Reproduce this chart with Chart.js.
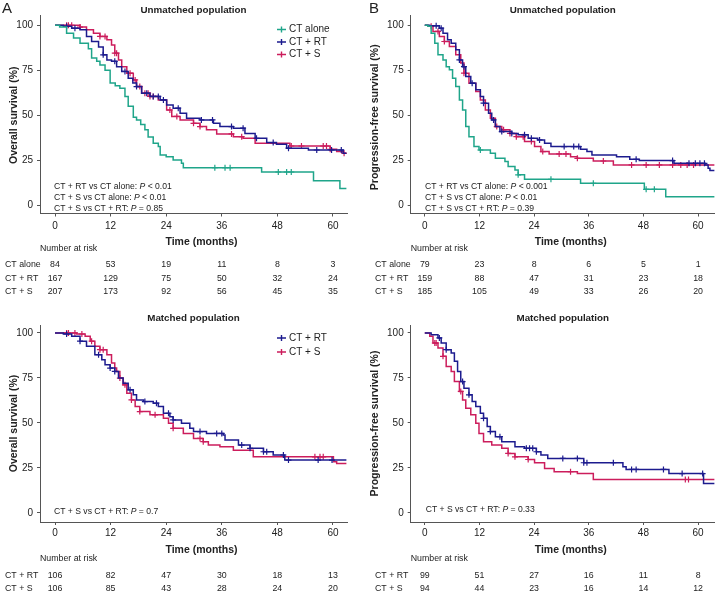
<!DOCTYPE html>
<html>
<head>
<meta charset="utf-8">
<script src="https://cdn.jsdelivr.net/npm/chart.js@4.4.1/dist/chart.umd.min.js"></script>
<style>
  html, body { margin: 0; padding: 0; background: #fff; }
  #wrap { position: relative; width: 720px; height: 594px; overflow: hidden; }
  #wrap canvas { position: absolute; }
</style>
</head>
<body>
<div id="wrap">
  <canvas id="pA" width="360" height="297" style="left:0;top:0;width:360px;height:297px"></canvas>
  <canvas id="pB" width="360" height="297" style="left:360px;top:0;width:360px;height:297px"></canvas>
  <canvas id="pC" width="360" height="297" style="left:0;top:297px;width:360px;height:297px"></canvas>
  <canvas id="pD" width="360" height="297" style="left:360px;top:297px;width:360px;height:297px"></canvas>
</div>
<script>
const timeTicks = [0, 12, 24, 36, 48, 60];
const survTicks = [0, 25, 50, 75, 100];

// A: overall survival, unmatched population
const osUnAloneT = [0, 1, 2.5, 4, 5.4, 7.2, 7.9, 9, 9.7, 10.8, 11.9, 13, 14, 15.1, 15.8, 16.9, 17.6, 18.5, 19.4, 20.1, 21.2, 22.3, 22.7, 24, 25.5, 27.3, 27.7, 44.6, 55.8, 61.5, 62.9];
const osUnAloneS = [100, 99, 95.6, 93, 90, 87, 81.8, 80, 78, 75, 68, 66.5, 65, 60.5, 55, 49, 47.5, 45, 42, 38, 34.5, 32.7, 28, 27, 25.3, 23.4, 21, 18.6, 13.8, 9.5, 9.5];
const osUnAloneCens = [34.5, 36.7, 37.8, 48.2, 50, 51];
const osUnRtT = [0, 1.8, 3.6, 5.4, 6.8, 7.9, 9.4, 10.4, 11.2, 12.2, 13.3, 14.4, 15.8, 16.8, 17.6, 18.7, 20.5, 22.7, 24.1, 25.5, 27, 28.4, 31.3, 34.2, 35.6, 38.5, 41, 43.2, 45.7, 47.8, 50, 54.7, 62.2, 62.9];
const osUnRtS = [100, 99.4, 98.4, 97.5, 93.8, 91, 88, 83.6, 80.8, 80, 77, 74.4, 70.6, 68, 66, 62.3, 60.5, 58.6, 55.8, 54, 51.2, 48.4, 47.5, 45.6, 43.8, 42.9, 40, 37.3, 34.9, 34, 31.8, 30.8, 29, 29];
const osUnRtCens = [2.5, 4.3, 10.4, 12.9, 15.1, 17.6, 19.8, 21.2, 22.3, 23.4, 26.6, 31.6, 34, 38.1, 40.6, 43.5, 47.1, 50.4, 56.5, 59.7, 61.8];
const osUnST = [0, 5.4, 6.8, 8.3, 9.7, 11.2, 12.2, 12.9, 13.7, 14.4, 15.5, 16.9, 17.6, 18.7, 20.5, 22.3, 24.1, 25.2, 27, 29.9, 31.3, 32.7, 34.9, 38.5, 40.6, 43.2, 50.7, 59.4, 60.8, 62.2, 62.9];
const osUnSS = [100, 99, 97.5, 95.6, 93.8, 92, 89, 84.5, 80.8, 77, 73.4, 69.7, 66, 62.3, 60.5, 58.6, 53, 49.4, 47.5, 45.6, 43.8, 42, 39.7, 38.2, 37.3, 34.5, 33, 31.2, 30, 29, 29];
const osUnSCens = [2.5, 2.9, 3.6, 5.4, 9.7, 10.8, 12.9, 13.3, 16.2, 17.3, 18.3, 19.4, 20.1, 20.5, 21.2, 24.8, 26.3, 29.9, 31.3, 38.1, 40.3, 51, 53.2, 57.9, 58.6, 59.4, 62.4];
const riskOsUnAlone = [84, 53, 19, 11, 8, 3];
const riskOsUnRt = [167, 129, 75, 50, 32, 24];
const riskOsUnS = [207, 173, 92, 56, 45, 35];

// B: progression-free survival, unmatched population
const pfsUnAloneT = [0, 0.7, 1.4, 2.2, 2.9, 4, 4.7, 5.4, 6.1, 6.8, 7.6, 8.3, 9, 9.7, 10.8, 11.9, 14.4, 15.5, 17.6, 18.3, 19.8, 20.5, 21.9, 34.2, 48.2, 52.9, 63.6];
const pfsUnAloneS = [100, 99.4, 95.6, 90, 83.6, 80.8, 77, 75.3, 70.6, 66, 58.6, 53, 43.8, 38.2, 32.7, 30.8, 29, 26.2, 24.4, 21.6, 19.7, 17, 14.5, 12.3, 9, 4.9, 4.9];
const pfsUnAloneCens = [12.2, 20.5, 27.7, 37, 48.6, 50.4];
const pfsUnRtT = [0, 1.1, 3.2, 4, 5, 5.8, 6.8, 7.6, 8.3, 9, 10.1, 11.2, 12.2, 12.9, 14, 14.7, 15.5, 16.5, 19.1, 20.5, 22.7, 24.8, 26.3, 27.7, 34.2, 35.6, 36.7, 42.1, 45, 47.1, 54.7, 61.5, 62.2, 62.6, 63.6];
const pfsUnRtS = [100, 99.7, 98.4, 95.6, 92, 90, 86.4, 80.8, 77, 71.6, 67.9, 64.2, 60.5, 56.8, 51.2, 47.5, 43.8, 41, 40, 39.2, 37.3, 36.4, 34.5, 32.7, 31.2, 29.9, 28, 27.1, 25.6, 24.9, 23.4, 22.5, 20.7, 19.4, 19.4];
const pfsUnRtCens = [2.5, 3.6, 7.6, 8.6, 10.4, 12.9, 15.1, 16.9, 19.1, 21.9, 23.4, 25.2, 30.6, 32.7, 33.8, 46.4, 54.4, 58, 59.4, 60.4, 61.4];
const pfsUnST = [0, 0.7, 1.8, 3.2, 4.3, 5.4, 6.8, 7.9, 8.6, 9.7, 11.2, 12.2, 13.3, 14.4, 15.5, 16.9, 18.7, 20.1, 21.9, 24.1, 25.5, 27.3, 32, 33.5, 37, 41.4, 63.6];
const pfsUnSS = [100, 99.4, 96.6, 93.8, 91, 88.2, 83.6, 79, 73.4, 67.9, 63.2, 58.6, 53, 48.4, 43.8, 42, 40, 38.2, 35.5, 32.7, 29.9, 28.6, 27.1, 26.2, 24.7, 22.5, 22.5];
const pfsUnSCens = [1.4, 2.9, 4.3, 8.6, 15.8, 17.3, 18.7, 20.1, 21.6, 23.4, 25.9, 29.5, 31, 33.5, 39.2, 45.4, 48.6, 51.5, 54.4, 56.2, 57.6, 59];
const riskPfsUnAlone = [79, 23, 8, 6, 5, 1];
const riskPfsUnRt = [159, 88, 47, 31, 23, 18];
const riskPfsUnS = [185, 105, 49, 33, 26, 20];

// C: overall survival, matched population
const osMaRtT = [0, 1.8, 3.6, 5.4, 6.8, 8.6, 10.1, 10.8, 11.9, 12.9, 13.7, 14.7, 15.8, 16.9, 17.6, 19.1, 21.2, 22.3, 23.4, 24.8, 25.5, 27.3, 29.1, 29.9, 32.7, 36.3, 36.7, 39.6, 42.1, 45, 47.1, 49.6, 62.9];
const osMaRtS = [100, 99.4, 98.1, 95.4, 92.6, 87.9, 85.1, 82.3, 80.5, 78.6, 74.9, 72.1, 68.4, 65.6, 62.8, 61.9, 61, 59.1, 55.4, 53.5, 51.7, 49.8, 47, 45.2, 44.2, 43.3, 40.5, 37.7, 35.9, 34, 32.2, 29.4, 29.4];
const osMaRtCens = [2.5, 5.4, 9.4, 11.9, 12.9, 16.2, 19.4, 21.9, 24.5, 25.5, 31.3, 34.9, 36, 40.3, 42.1, 45, 45.7, 49.3, 50.4, 56.8, 59.8];
const osMaST = [0, 4.7, 6.5, 7.6, 8.6, 9.7, 11.2, 12.2, 12.9, 13.3, 14, 14.7, 15.5, 16.5, 17.3, 18.3, 20.5, 23.4, 24.5, 25.5, 27.7, 29.9, 32, 33.1, 35.6, 38.5, 42.8, 60.1, 60.8, 62.9];
const osMaSS = [100, 99.4, 98.1, 95.4, 92.6, 90.7, 87.9, 83.3, 80.5, 78.6, 74.9, 71.2, 66.5, 62.8, 59.1, 56.3, 54.5, 52.6, 49.8, 47, 44.2, 41.4, 39.6, 37.7, 36.8, 34.9, 31.2, 28.4, 27.5, 27.5];
const osMaSCens = [2.5, 2.9, 4.3, 5.8, 7.9, 9.7, 10.4, 14, 15.1, 16.5, 18.3, 21.6, 25.5, 31.3, 32, 56.1, 57.2, 57.9];
const riskOsMaRt = [106, 82, 47, 30, 18, 13];
const riskOsMaS = [106, 85, 43, 28, 24, 20];

// D: progression-free survival, matched population
const pfsMaRtT = [0, 1.4, 2.9, 3.6, 4.7, 5.8, 6.5, 7.2, 7.9, 8.6, 9.7, 10.4, 11.2, 12.2, 12.9, 13.7, 14.4, 15.5, 16.9, 19.8, 21.9, 24.5, 25.5, 27, 34.9, 43.5, 44.2, 53.6, 61.2, 63.6];
const pfsMaRtS = [100, 99, 97.2, 94.4, 90.7, 88.8, 84.2, 78.6, 73, 69.3, 65.6, 61.9, 59.1, 55.4, 52.6, 48, 45.2, 42.4, 39.6, 36.8, 35.9, 34, 32.2, 30.3, 27.9, 25.7, 24.2, 21.9, 16.4, 16.4];
const pfsMaRtCens = [3.2, 4.7, 8.3, 9.7, 12.9, 14.4, 16.5, 22.3, 23, 23.7, 24.5, 30.3, 33.5, 34.9, 35.6, 41.4, 45.4, 46.4, 52.4, 56.5, 61];
const pfsMaST = [0, 1.1, 1.8, 2.9, 4, 4.7, 5.8, 6.5, 7.6, 8.3, 9, 10.1, 11.2, 11.9, 12.9, 14.7, 16.9, 18.3, 19.8, 22.7, 24.1, 26.3, 28.4, 33.5, 37, 63.6];
const pfsMaSS = [100, 98.1, 94.4, 91.6, 87, 81.4, 78.6, 73, 67.5, 62.8, 58.2, 54.5, 49.8, 44.2, 39.6, 37.7, 35.9, 33.1, 31.2, 29.7, 27.9, 24.7, 22.9, 21.9, 18.6, 18.6];
const pfsMaSCens = [2.2, 2.5, 4, 7.9, 18.3, 19.8, 22.7, 32, 57.2, 57.9];
const riskPfsMaRt = [99, 51, 27, 16, 11, 8];
const riskPfsMaS = [94, 44, 23, 16, 14, 12];

const FONT = '"Liberation Sans", Arial, Helvetica, sans-serif';
const TXT = '#222';
const AXIS = '#555';
const cAlone = '#1fa58a';
const cRt = '#1c1b8e';
const cS = '#cc1d5c';

function stepAt(T, S, t) {
  let v = S[0];
  for (let i = 0; i < T.length; i++) if (T[i] <= t) v = S[i];
  return v;
}

function group(name, color, T, S, C, risk) {
  return { name, color, T, S, C, risk };
}

// draws all the text around the plot: titles, p-values, legend, risk table
const panelText = {
  id: 'panelText',
  afterDraw(chart, args, o) {
    const ctx = chart.ctx, a = chart.chartArea, xs = chart.scales.x;
    ctx.save();
    ctx.fillStyle = TXT;
    ctx.textBaseline = 'middle';

    if (o.letter) {
      ctx.font = '15px ' + FONT;
      ctx.textAlign = 'left';
      ctx.fillText(o.letter, o.letterX, 9);
    }
    ctx.font = 'bold 9.8px ' + FONT;
    ctx.textAlign = 'center';
    ctx.fillText(o.title, (a.left + a.right) / 2, o.titleY);

    ctx.font = 'bold 10.5px ' + FONT;
    ctx.fillText('Time (months)', (a.left + a.right) / 2 + 8, o.xTitleY);

    ctx.save();
    ctx.translate(o.yTitleX, (a.top + a.bottom) / 2 + o.yTitleDy);
    ctx.rotate(-Math.PI / 2);
    ctx.fillText(o.yTitle, 0, 0);
    ctx.restore();

    // p-values
    ctx.textAlign = 'left';
    o.pTexts.forEach((p, i) => {
      let x = o.pX;
      const y = o.pY[i];
      ctx.font = '8.6px ' + FONT;
      ctx.fillText(p[0], x, y); x += ctx.measureText(p[0]).width;
      ctx.font = 'italic 8.6px ' + FONT;
      ctx.fillText(p[1], x, y); x += ctx.measureText(p[1]).width;
      ctx.font = '8.6px ' + FONT;
      ctx.fillText(p[2], x, y);
    });

    // legend
    ctx.font = '10px ' + FONT;
    o.groups.forEach((g, i) => {
      const y = o.legendY[i], x = o.legendX;
      ctx.strokeStyle = g.color;
      ctx.lineWidth = 1.4;
      ctx.beginPath();
      ctx.moveTo(x, y); ctx.lineTo(x + 9, y);
      ctx.moveTo(x + 4.5, y - 3); ctx.lineTo(x + 4.5, y + 3);
      ctx.stroke();
      ctx.fillStyle = TXT;
      ctx.fillText(g.name, x + 12, y);
    });

    // number at risk
    ctx.font = '8.8px ' + FONT;
    ctx.fillText('Number at risk', a.left, o.narY);
    o.groups.forEach((g, i) => {
      const y = o.rowY[i];
      ctx.textAlign = 'left';
      ctx.fillText(g.name, o.rowLabelX, y);
      ctx.textAlign = 'center';
      g.risk.forEach((n, j) => ctx.fillText(String(n), xs.getPixelForValue(timeTicks[j]), y));
    });
    ctx.restore();
  }
};

function makePanel(p) {
  const datasets = [];
  p.groups.forEach(g => {
    datasets.push({
      label: g.name,
      data: g.T.map((t, i) => ({ x: t, y: g.S[i] })),
      borderColor: g.color,
      borderWidth: 1.5,
      stepped: 'before',
      pointRadius: 0,
      fill: false
    });
    datasets.push({
      label: g.name + ' censored',
      data: g.C.map(t => ({ x: t, y: stepAt(g.T, g.S, t) })),
      showLine: false,
      borderColor: g.color,
      backgroundColor: g.color,
      pointStyle: 'cross',
      pointRadius: 3,
      pointBorderWidth: 1.2
    });
  });

  new Chart(document.getElementById(p.id), {
    type: 'line',
    data: { datasets },
    options: {
      responsive: false,
      animation: false,
      layout: { padding: p.pad },
      plugins: {
        legend: { display: false },
        tooltip: { enabled: false },
        panelText: p
      },
      scales: {
        x: {
          type: 'linear',
          min: p.xMin, max: p.xMax,
          afterBuildTicks: s => { s.ticks = timeTicks.map(v => ({ value: v })); },
          afterFit: s => { s.height = 40; },
          grid: { display: true, drawOnChartArea: false, drawTicks: true, tickLength: 3, color: AXIS },
          border: { display: true, color: AXIS, width: 1 },
          ticks: { color: TXT, font: { family: FONT, size: 10 }, padding: p.xTickPad, maxRotation: 0, autoSkip: false }
        },
        y: {
          type: 'linear',
          min: p.yMin, max: p.yMax,
          afterBuildTicks: s => { s.ticks = survTicks.map(v => ({ value: v })); },
          afterFit: s => { s.width = p.yW; },
          grid: { display: true, drawOnChartArea: false, drawTicks: true, tickLength: 3, color: AXIS },
          border: { display: true, color: AXIS, width: 1 },
          ticks: { color: TXT, font: { family: FONT, size: 10 }, padding: 4 }
        }
      }
    },
    plugins: [panelText]
  });
}

const topRows = { titleY: 10.5, xTitleY: 242, narY: 249, rowY: [265, 278.3, 291.6], legendY: [29.5, 42, 54.5],
  yMin: -4.44, yMax: 105.7, xTickPad: 3.5 };
const botRows = { titleY: 21, xTitleY: 253, narY: 262, rowY: [279, 292], legendY: [41, 55],
  yMin: -5, yMax: 104.4, xTickPad: 2 };

makePanel(Object.assign({}, topRows, {
  id: 'pA', letter: 'A', letterX: 2, title: 'Unmatched population', yTitle: 'Overall survival (%)',
  xMin: -3.24, xMax: 63.03, pad: { left: 0, right: 13, top: 15, bottom: 43.5 }, yW: 40,
  yTitleX: 14, yTitleDy: 1, pX: 54, pY: [186.7, 197.5, 208.3], legendX: 277, rowLabelX: 5,
  pTexts: [['CT + RT vs CT alone: ', 'P', ' < 0.01'], ['CT + S vs CT alone: ', 'P', ' < 0.01'], ['CT + S vs CT + RT: ', 'P', ' = 0.85']],
  groups: [
    group('CT alone', cAlone, osUnAloneT, osUnAloneS, osUnAloneCens, riskOsUnAlone),
    group('CT + RT', cRt, osUnRtT, osUnRtS, osUnRtCens, riskOsUnRt),
    group('CT + S', cS, osUnST, osUnSS, osUnSCens, riskOsUnS)
  ]
}));

makePanel(Object.assign({}, topRows, {
  id: 'pB', letter: 'B', letterX: 9, title: 'Unmatched population', yTitle: 'Progression-free survival (%)',
  xMin: -3.09, xMax: 63.67, pad: { left: 0, right: 0, top: 15, bottom: 43.5 }, yW: 50.7,
  yTitleX: 15.5, yTitleDy: 3, pX: 65, pY: [186.7, 197.5, 208.3], legendX: 9999, rowLabelX: 15,
  pTexts: [['CT + RT vs CT alone: ', 'P', ' < 0.001'], ['CT + S vs CT alone: ', 'P', ' < 0.01'], ['CT + S vs CT + RT: ', 'P', ' = 0.39']],
  groups: [
    group('CT alone', cAlone, pfsUnAloneT, pfsUnAloneS, pfsUnAloneCens, riskPfsUnAlone),
    group('CT + RT', cRt, pfsUnRtT, pfsUnRtS, pfsUnRtCens, riskPfsUnRt),
    group('CT + S', cS, pfsUnST, pfsUnSS, pfsUnSCens, riskPfsUnS)
  ]
}));

makePanel(Object.assign({}, botRows, {
  id: 'pC', letter: '', title: 'Matched population', yTitle: 'Overall survival (%)',
  xMin: -3.24, xMax: 63.03, pad: { left: 0, right: 13, top: 28, bottom: 32 }, yW: 40,
  yTitleX: 14, yTitleDy: 0, pX: 54, pY: [214.7], legendX: 277, rowLabelX: 5,
  pTexts: [['CT + S vs CT + RT: ', 'P', ' = 0.7']],
  groups: [
    group('CT + RT', cRt, osMaRtT, osMaRtS, osMaRtCens, riskOsMaRt),
    group('CT + S', cS, osMaST, osMaSS, osMaSCens, riskOsMaS)
  ]
}));

makePanel(Object.assign({}, botRows, {
  id: 'pD', letter: '', title: 'Matched population', yTitle: 'Progression-free survival (%)',
  xMin: -3.09, xMax: 63.67, pad: { left: 0, right: 0, top: 28, bottom: 32 }, yW: 50.7,
  yTitleX: 15.5, yTitleDy: 0, pX: 65.7, pY: [213], legendX: 9999, rowLabelX: 15,
  pTexts: [['CT + S vs CT + RT: ', 'P', ' = 0.33']],
  groups: [
    group('CT + RT', cRt, pfsMaRtT, pfsMaRtS, pfsMaRtCens, riskPfsMaRt),
    group('CT + S', cS, pfsMaST, pfsMaSS, pfsMaSCens, riskPfsMaS)
  ]
}));
</script>
</body>
</html>
